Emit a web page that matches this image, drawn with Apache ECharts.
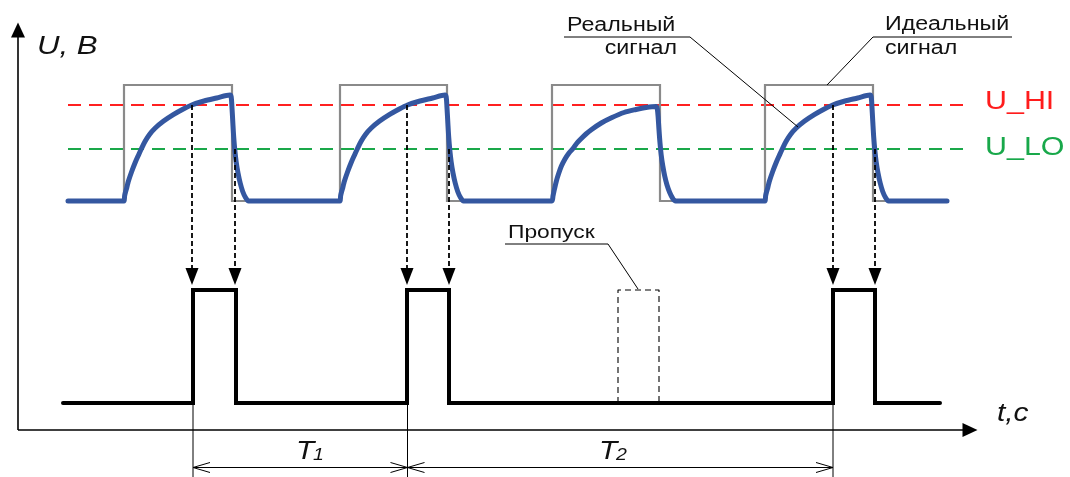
<!DOCTYPE html>
<html>
<head>
<meta charset="utf-8">
<script src="https://cdn.jsdelivr.net/npm/echarts@6/dist/echarts.min.js"></script>
<style>
  html, body { margin: 0; padding: 0; background: #fff; }
  #chart { width: 1070px; height: 477px; }
</style>
</head>
<body>
<div id="chart"></div>
<script>
// all points are [t, level]; the level axis runs downward like the sketch
const idealSignal = [
  [68, 201], [124, 201], [124, 85], [232, 85], [232, 201],
  [340, 201], [340, 85], [447, 85], [447, 201],
  [552, 201], [552, 85], [660, 85], [660, 201],
  [765, 201], [765, 85], [873, 85], [873, 201], [947, 201]
];

const realPulse1 = [
  [124, 201], [124.6, 196], [125.5, 192], [126.7, 188], [128.3, 181.5], [131.7, 171.5],
  [135, 163], [138.3, 155.5], [141.5, 148.5], [145, 141.5], [149.5, 134.5], [155, 128.3],
  [163.3, 121.3], [173.3, 114.7], [183.3, 109], [191.7, 105], [204, 101], [216.7, 98], [230, 95],
  [231.2, 97], [232, 108], [232.8, 122], [233.7, 137], [234.8, 150], [236.2, 162],
  [238, 173], [240.2, 183], [242.7, 191.5], [245.5, 197.5], [248.5, 201], [252, 201]
];
const realPulse2 = [
  [336, 201], [340, 201], [340.6, 196], [341.5, 192], [342.7, 188], [344.3, 181.5], [347.7, 171.5],
  [351, 163], [354.3, 155.5], [357.5, 148.5], [361, 141.5], [365.5, 134.5], [371, 128.3],
  [379.3, 121.3], [389.3, 114.7], [399.3, 109], [407.5, 105], [420, 101], [432.7, 98], [445, 95],
  [446.2, 97], [447, 108], [447.8, 122], [448.7, 137], [449.8, 150], [451.2, 162],
  [453, 173], [455.2, 183], [457.7, 191.5], [460.5, 197.5], [463.5, 201], [467, 201]
];
const realPulse3 = [
  [548, 201], [552, 201], [553, 196], [554, 191.3], [556.3, 181.3], [558.5, 174], [561.3, 166.3],
  [565, 159], [569, 153], [573, 148.5], [577, 143], [581.3, 138.5], [586, 134], [591.3, 129.7],
  [601.3, 123], [612, 117.5], [624, 112.5], [636, 109.5], [646, 107.5], [656, 106.5],
  [657.3, 109], [658.2, 118], [659, 130], [660, 143], [661.2, 155], [662.8, 166],
  [664.7, 176], [667, 185], [669.7, 192.5], [672.5, 198], [675.5, 201], [679, 201]
];
const realPulse4 = [
  [761, 201], [765, 201], [765.6, 196], [766.5, 192], [767.7, 188], [769.3, 181.5], [772.7, 171.5],
  [776, 163], [779.3, 155.5], [782.5, 148.5], [786, 141.5], [790.5, 134.5], [796, 128.3],
  [804.3, 121.3], [814.3, 114.7], [824.3, 109], [832.7, 105], [845, 101], [857.7, 98], [870, 95],
  [871.2, 97], [872, 108], [872.8, 122], [873.7, 137], [874.8, 150], [876.2, 162],
  [878, 173], [880.2, 183], [882.7, 191.5], [885.5, 197.5], [888.5, 201], [892, 201]
];
const realSignal = [[68, 201], [72, 201]]
  .concat(realPulse1, realPulse2, realPulse3, realPulse4, [[943, 201], [947, 201]]);

const levelHi = [[68, 105], [970, 105]];
const levelLo = [[68, 149], [970, 149]];

const outputSignal = [
  [63, 403], [193, 403], [193, 290], [236, 290], [236, 403],
  [407, 403], [407, 290], [449, 290], [449, 403],
  [833, 403], [833, 290], [875, 290], [875, 403], [940, 403]
];
const missedPulse = [[618, 403], [618, 290], [659, 290], [659, 403]];

// threshold crossings -> detector output edges
const triggerShafts = [
  [[192, 105], [192, 270]], [[235, 149], [235, 270]],
  [[407, 105], [407, 270]], [[449, 149], [449, 270]],
  [[833, 105], [833, 270]], [[875, 149], [875, 270]]
];
const triggerTips = [[192, 285], [235, 285], [407, 285], [449, 285], [833, 285], [875, 285]];

const axisLines = [[[18, 430], [18, 34]], [[18, 430], [964, 430]]];

const dimLines = [
  [[193, 405], [193, 477]], [[407.5, 405], [407.5, 477]], [[833, 405], [833, 477]],
  [[193, 467.5], [833, 467.5]],
  [[210, 462.5], [193, 467.5], [210, 472.5]],
  [[390.5, 462.5], [407.5, 467.5], [390.5, 472.5]],
  [[424.5, 462.5], [407.5, 467.5], [424.5, 472.5]],
  [[816, 462.5], [833, 467.5], [816, 472.5]]
];
const leaderLines = [
  [[564, 37], [690, 37], [798, 127]],
  [[1012, 37], [873, 37], [827, 85]],
  [[505, 244], [608, 244], [638, 289]]
];

const FONT = '"Liberation Sans", Arial, sans-serif';

function txt(text, x, y, size, opts) {
  opts = opts || {};
  return {
    type: 'text',
    x: x, y: y,
    scaleX: opts.sx || 1.16,
    silent: true,
    style: {
      text: text,
      font: (opts.italic ? 'italic ' : '') + size + 'px ' + FONT,
      fill: opts.color || '#111',
      textAlign: opts.align || 'left',
      textVerticalAlign: 'middle',
      verticalAlign: 'middle'
    }
  };
}

const chart = echarts.init(document.getElementById('chart'));

const options = {
  animation: false,
  backgroundColor: '#fff',
  grid: { left: 0, right: 0, top: 0, bottom: 0 },
  xAxis: { type: 'value', min: 0, max: 1070, show: false },
  yAxis: { type: 'value', min: 0, max: 477, inverse: true, show: false },
  series: [
    {
      type: 'line', data: levelHi, symbol: 'none', z: 1,
      lineStyle: { color: '#ff2020', width: 1.8, type: [13, 8] }
    },
    {
      type: 'line', data: levelLo, symbol: 'none', z: 1,
      lineStyle: { color: '#1aa84a', width: 1.8, type: [13, 8] }
    },
    {
      type: 'line', data: idealSignal, symbol: 'none', z: 2,
      lineStyle: { color: '#8a8a8a', width: 2.2, join: 'miter' }
    },
    {
      type: 'line', data: realSignal, symbol: 'none', z: 3,
      smooth: 0.3,
      lineStyle: { color: '#3457a0', width: 5, cap: 'round', join: 'round' }
    },
    {
      type: 'line', data: outputSignal, symbol: 'none', z: 3,
      lineStyle: { color: '#000', width: 4, cap: 'round', join: 'miter' }
    },
    {
      type: 'line', data: missedPulse, symbol: 'none', z: 3,
      lineStyle: { color: '#000', width: 1.1, type: [6, 4] }
    },
    {
      type: 'lines', coordinateSystem: 'cartesian2d', polyline: true, z: 4, silent: true,
      data: triggerShafts.map(c => ({ coords: c })),
      lineStyle: { color: '#000', width: 1.8, type: [5, 3], opacity: 1 }
    },
    {
      type: 'scatter', data: triggerTips, z: 5, silent: true,
      symbol: 'triangle', symbolSize: [13, 17], symbolRotate: 180, symbolOffset: [0, -8.5],
      itemStyle: { color: '#000', opacity: 1 }
    },
    {
      type: 'lines', coordinateSystem: 'cartesian2d', polyline: true, z: 4, silent: true,
      data: axisLines.map(c => ({ coords: c })),
      lineStyle: { color: '#000', width: 1.6, opacity: 1 }
    },
    {
      type: 'scatter', z: 5, silent: true,
      data: [
        { value: [18, 23], symbolRotate: 0, symbolOffset: [0, 7] },
        { value: [977, 430], symbolRotate: -90, symbolOffset: [-7, 0] }
      ],
      symbol: 'triangle', symbolSize: [14, 15],
      itemStyle: { color: '#000', opacity: 1 }
    },
    {
      type: 'lines', coordinateSystem: 'cartesian2d', polyline: true, z: 4, silent: true,
      data: dimLines.concat(leaderLines).map(c => ({ coords: c })),
      lineStyle: { color: '#000', width: 1, opacity: 1 }
    }
  ],
  graphic: [
    txt('U, B', 37, 47, 26, { italic: true, sx: 1.2 }),
    txt('t,c', 997, 414, 26, { italic: true, sx: 1.15 }),
    txt('U_HI', 985, 102, 26, { color: '#ff1c1c', sx: 1.17 }),
    txt('U_LO', 985, 148, 26, { color: '#18a84a', sx: 1.17 }),
    txt('Реальный', 567, 25, 20),
    txt('сигнал', 677, 48, 20, { align: 'right' }),
    txt('Идеальный', 885, 24, 20),
    txt('сигнал', 885, 48, 20),
    txt('Пропуск', 508, 233, 19, { sx: 1.2 }),
    txt('T', 296, 452, 26, { italic: true, sx: 1.15 }),
    txt('1', 313, 455, 17, { italic: true, sx: 1.15 }),
    txt('T', 599, 452, 26, { italic: true, sx: 1.15 }),
    txt('2', 616, 455, 17, { italic: true, sx: 1.15 })
  ]
};

chart.setOption(options);
window.onresize = () => {
  chart.resize();
};
</script>
</body>
</html>
